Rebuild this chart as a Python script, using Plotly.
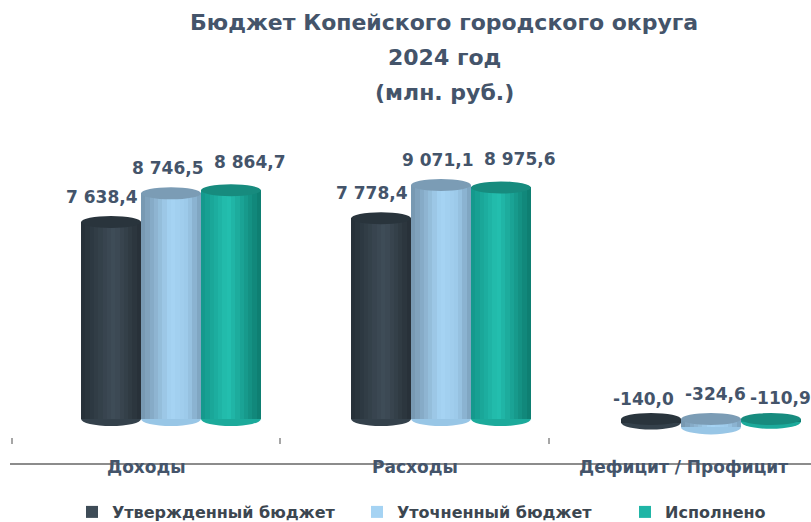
import plotly.graph_objects as go

# ---------------- data ----------------
categories = ["Доходы", "Расходы", "Дефицит / Профицит"]
series_names = ["Утвержденный бюджет", "Уточненный бюджет", "Исполнено"]
approved = [7638.4, 7778.4, -140.0]
refined = [8746.5, 9071.1, -324.6]
executed = [8864.7, 8975.6, -110.9]
title_lines = ["Бюджет Копейского городского округа", "2024 год", "(млн. руб.)"]

series_values = [approved, refined, executed]

# ---------------- layout geometry ----------------
W, H = 811, 522
ML, MR, MT, MB = 10, 0, 100, 59
PW, PH = W - ML - MR, H - MT - MB
X_RANGE = [-0.5963, 2.3704]
Y_RANGE = [-1705, 12364]
BAR_W = 0.222
OFFSETS = [-0.333, -0.111, 0.111]
TICK_POS = [-0.589, 0.404, 1.400]
LEGEND_PX = [72, 357, 625]
N_STRIPES = 14

TXT = "#44546A"
FONT = "DejaVu Sans"

styles = [
    dict(grad=[(0, "#252F37"), (0.55, "#3F4D58"), (1, "#262F36")],
         top="#29343C", bottom="#34414B", shift=-9, shift_neg=-8, yshift_pos=25, yshift_neg=20),
    dict(grad=[(0, "#7594AD"), (0.5, "#A6D5F5"), (0.78, "#9CC9E9"), (1, "#7B9FBB")],
         top="#7B9CB5", bottom="#98C6E6", shift=-3, shift_neg=5, yshift_pos=25, yshift_neg=25),
    dict(grad=[(0, "#13968A"), (0.45, "#24C0B0"), (1, "#0D7A6E")],
         top="#178B7E", bottom="#1CAA9B", shift=19, shift_neg=10, yshift_pos=28, yshift_neg=21),
]


def hex2rgb(h):
    h = h.lstrip("#")
    return tuple(int(h[i:i + 2], 16) for i in (0, 2, 4))


def interp(stops, t):
    for (t0, c0), (t1, c1) in zip(stops[:-1], stops[1:]):
        if t0 <= t <= t1:
            a = (t - t0) / (t1 - t0) if t1 > t0 else 0
            r0, r1 = hex2rgb(c0), hex2rgb(c1)
            return "rgb(%d,%d,%d)" % tuple(round(r0[j] + (r1[j] - r0[j]) * a) for j in range(3))
    return stops[-1][1]


def px_x(p):
    return (p - ML) / PW


def px_y(p):
    return (H - MB - p) / PH


def fmt(v):
    return f"{v:,.1f}".replace(",", " ").replace(".", ",")


x_idx = list(range(len(categories)))

fig = go.Figure()
shapes = []
annotations = []
legend_names = ["legend", "legend2", "legend3"]

for s, (name, vals, st) in enumerate(zip(series_names, series_values, styles)):
    sw = BAR_W / N_STRIPES
    for k in range(N_STRIPES):
        col = interp(st["grad"], (k + 0.5) / N_STRIPES)
        fig.add_trace(go.Bar(
            x=x_idx, y=vals,
            offset=OFFSETS[s] + k * sw,
            width=sw * (1.25 if k < N_STRIPES - 1 else 1.0),
            marker=dict(color=col, line=dict(width=0)),
            name=name, legendgroup=name, legend=legend_names[s],
            showlegend=(k == N_STRIPES // 2),
            hoverinfo="skip",
        ))
    for i, v in enumerate(vals):
        x0 = x_idx[i] + OFFSETS[s]
        x1 = x0 + BAR_W
        shapes.append(dict(type="circle", xref="x", yref="y", ysizemode="pixel",
                           yanchor=min(v, 0), y0=-7, y1=7, x0=x0, x1=x1,
                           fillcolor=st["bottom"], line=dict(width=0), layer="below"))
        shapes.append(dict(type="circle", xref="x", yref="y", ysizemode="pixel",
                           yanchor=max(v, 0), y0=-6, y1=6, x0=x0, x1=x1,
                           fillcolor=st["top"], line=dict(width=0), layer="above"))
        annotations.append(dict(
            x=(x0 + x1) / 2, y=max(v, 0), xref="x", yref="y",
            text=fmt(v), showarrow=False, xanchor="center", yanchor="middle",
            xshift=st["shift"] if v >= 0 else st["shift_neg"],
            yshift=st["yshift_pos"] if v >= 0 else st["yshift_neg"],
            font=dict(family=FONT, size=17, color=TXT, weight="bold"),
        ))

# category labels centred between tick marks
tick_ext = TICK_POS + [TICK_POS[-1] + (TICK_POS[-1] - TICK_POS[-2])]
for i, c in enumerate(categories):
    annotations.append(dict(
        x=(tick_ext[i] + tick_ext[i + 1]) / 2, y=px_y(467), xref="x", yref="paper",
        text=c, showarrow=False, xanchor="center", yanchor="middle",
        font=dict(family=FONT, size=17, color=TXT, weight="bold"),
    ))

# title lines
for line, py in zip(title_lines, [22, 57, 92]):
    annotations.append(dict(
        x=px_x(444), y=px_y(py), xref="paper", yref="paper",
        text=line, showarrow=False, xanchor="center", yanchor="middle",
        font=dict(family=FONT, size=22, color=TXT, weight="bold"),
    ))

# invisible trace to carry the tick-mark axis
fig.add_trace(go.Scatter(x=TICK_POS, y=[0] * len(TICK_POS), xaxis="x2", yaxis="y",
                         mode="markers", marker=dict(opacity=0), showlegend=False,
                         hoverinfo="skip"))

legend_common = dict(orientation="h", xanchor="left", y=px_y(512), yanchor="middle",
                     itemwidth=30,
                     font=dict(family=FONT, size=16, color="#3C4650", weight="bold"),
                     bgcolor="rgba(0,0,0,0)")

fig.update_layout(
    width=W, height=H,
    margin=dict(l=ML, r=MR, t=MT, b=MB, pad=0, autoexpand=False),
    paper_bgcolor="white", plot_bgcolor="white",
    barmode="overlay", bargap=0,
    showlegend=True,
    hovermode=False,
    xaxis=dict(range=X_RANGE, showgrid=False, zeroline=False, showticklabels=False,
               ticks="", showline=True, linecolor="#8C8C8C", linewidth=1.5,
               fixedrange=True),
    xaxis2=dict(range=X_RANGE, overlaying="x", anchor="free", position=px_y(437),
                side="bottom", showgrid=False, zeroline=False, showline=False,
                showticklabels=False, ticks="outside", ticklen=6, tickwidth=1.5,
                tickcolor="#A6A6A6", tickmode="array", tickvals=TICK_POS,
                fixedrange=True),
    yaxis=dict(range=Y_RANGE, visible=False, fixedrange=True),
    legend=dict(x=px_x(LEGEND_PX[0]), **legend_common),
    legend2=dict(x=px_x(LEGEND_PX[1]), **legend_common),
    legend3=dict(x=px_x(LEGEND_PX[2]), **legend_common),
    shapes=shapes,
    annotations=annotations,
)

fig.write_html("out.html",
               config={"displayModeBar": False},
               post_script="document.body.style.margin='0';document.body.style.overflow='hidden';")
